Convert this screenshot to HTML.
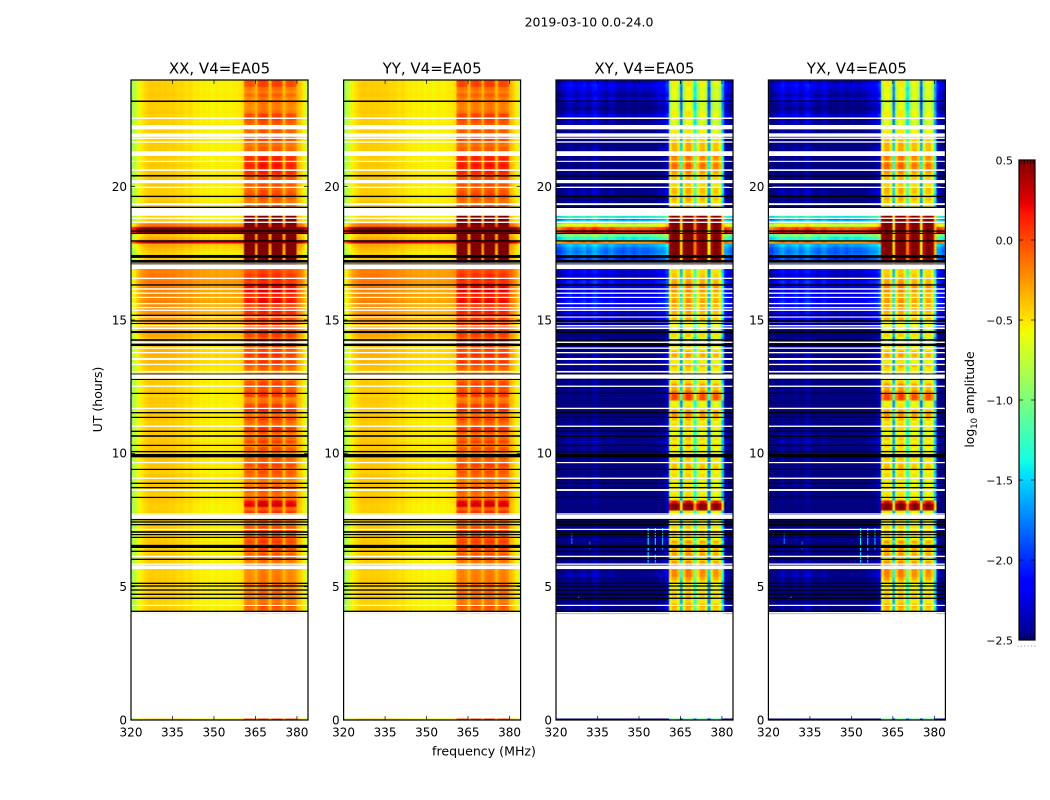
<!DOCTYPE html>
<html>
<head>
<meta charset="utf-8">
<title>2019-03-10 spectrogram</title>
<style>
html,body{margin:0;padding:0;background:#fff;}
svg{display:block;}
text{font-family:"DejaVu Sans","Liberation Sans",sans-serif;fill:#000;}
</style>
</head>
<body>
<svg id="chart" xmlns="http://www.w3.org/2000/svg" width="1050" height="800" viewBox="0 0 1050 800">
<defs>
<filter id="smooth" x="-2%" y="-2%" width="104%" height="104%" color-interpolation-filters="sRGB"><feGaussianBlur stdDeviation="0.6 0.4"/></filter>
</defs>
<text x="589" y="26.5" font-size="12.5" text-anchor="middle">2019-03-10 0.0-24.0</text>
<text x="484" y="755.5" font-size="12.6" text-anchor="middle">frequency (MHz)</text>
<text transform="translate(102,399.5) rotate(-90)" font-size="12.5" text-anchor="middle">UT (hours)</text>
<text transform="translate(974,399.5) rotate(-90)" font-size="12.4" text-anchor="middle">log<tspan font-size="8.5" dy="3">10</tspan><tspan dy="-3"> amplitude</tspan></text>
<g id="panels"></g>
<g id="colorbar"></g>
</svg>
<script>
/* ---- axes ---- */
var freqTicks = [320, 335, 350, 365, 380];
var utTicks = [0, 5, 10, 15, 20];
var freqDomain = [320, 384];
var utDomain = [0, 24];
var panelNames = ["XX", "YY", "XY", "YX"];
var baselineLabel = "V4=EA05";
var colorTicks = [0.5, 0.0, -0.5, -1.0, -1.5, -2.0, -2.5];
var colorDomain = [-2.5, 0.5];

/* ---- time grid ---- */
var rowStartUT = 4.0;
var rowHours = 0.125;

/* ---- spectral structure: log10 amplitude per 1 MHz channel ---- */
var parallelChannels = [-0.9,-0.78,-0.66,-0.56,-0.5,-0.46,-0.43,-0.42,-0.42,-0.43,-0.42,-0.43,-0.42,-0.43,-0.44,-0.43,-0.45,-0.47,-0.45,-0.48,-0.5,-0.47,-0.5,-0.53,-0.51,-0.55,-0.52,-0.55,-0.53,-0.57,-0.55,-0.53,-0.57,-0.55,-0.53,-0.55,-0.55,-0.53,-0.53,-0.51,-0.49,-0.3,-0.3,-0.3,-0.3,-0.35,-0.3,-0.3,-0.3,-0.3,-0.35,-0.3,-0.3,-0.3,-0.3,-0.35,-0.3,-0.3,-0.3,-0.3,-0.36,-0.42,-0.52,-0.68,-0.85];
var crossChannels = [-.22,-.22,-.12,-.07,.03,.08,-.02,-.07,-.02,.03,.08,-.07,-.02,.08,.13,.03,-.02,-.07,-.12,-.02,.03,-.07,-.12,-.12,-.17,-.12,-.07,-.12,-.17,-.12,-.07,-.12,-.12,-.12,-.07,-.07,-.02,.03,.03,.08,.23,0,0,0,0,0,0,0,0,0,0,0,0,0,0,0,0,0,0,0,0,.08,0,-.1,-.1];
var ifFirstChannels = [41, 46, 51, 56];
var gapChannels = [45, 50, 55];
var parallelIfShape = [-0.03, 0.01, 0.01, -0.04];
var crossIfShape = [-0.22, 0.04, 0.05, -0.15];
var crossGapDrop = [1.0, 0.65, 1.1];
var crossEdgeDrop = 0.9;
var xxIfOffsets = [0.08, 0.15, 0.14, 0.09];
var yyIfOffsets = [0.12, 0.13, 0.15, 0.12];
var xyIfOffsets = [0.12, 0.17, 0.10, 0.07];
var yxIfOffsets = [0.14, 0.16, 0.09, 0.08];

/* ---- per-time levels, one value every 0.125 h from 4 UT to 24 UT ---- */
var parallelBackground = [
0,.02,0,-.02,.02,0,.01,0,
0,.02,.01,0,-.01,.02,0,.01,
0,.02,-.02,.02,0,.03,.01,0,
.01,.03,0,.02,.02,0,.01,0,
0,.02,.03,0,.02,.01,.03,0,
.02,.03,0,.02,.03,.01,.04,.02,
.03,.02,.04,.03,.01,.03,.02,.02,
.02,.01,.03,.02,.02,.01,0,.02,
.01,0,.02,.01,0,.02,.01,.01,
.04,.03,.05,.08,.06,.1,.08,.07,
.05,.1,.07,.14,.1,.18,.12,.2,
.16,.22,.18,.25,.2,.27,.22,.25,
.22,.28,.24,.3,.24,.28,.25,.28,
.2,.1,.05,-.02,.02,.08,.12,.8,
.12,.04,.95,.95,.3,.02,-.03,0,
0,.02,0,.03,0,.02,0,0,
.02,0,.02,0,.03,.01,.02,0,
0,.02,0,.01,0,.02,0,.01,
.01,0,.02,0,.01,0,.02,0,
0,.01,0,.02,.01,0,.01,0];
var parallelBand = [
-.25,-.2,-.15,-.3,-.22,-.3,-.2,-.35,
-.2,-.3,-.28,-.3,-.3,-.32,-.3,-.28,
-.2,-.15,-.25,-.1,-.2,-.08,-.15,-.1,
-.2,-.1,-.2,-.25,-.1,-.15,-.05,-.2,
.15,.1,-.2,-.25,-.2,-.1,-.25,-.3,
-.3,-.2,-.15,-.2,-.1,-.25,-.2,-.3,
-.25,-.15,-.3,-.1,-.2,-.3,-.15,-.05,
-.25,-.2,-.1,-.25,-.05,0,-.1,-.25,
-.3,-.05,-.1,-.15,-.1,-.15,-.3,-.35,
-.35,-.2,-.15,-.05,-.2,-.05,-.2,-.1,
-.1,-.05,-.2,-.08,0,-.15,-.05,-.1,
-.1,-.05,0,.05,-.1,.1,.05,0,
.1,.12,.1,-.05,0,-.05,-.1,-.15,
.4,.4,.45,.45,.5,.5,.45,.5,
.5,.5,.5,.5,.5,.45,.45,.4,
-.2,-.2,-.2,-.25,-.2,-.1,-.15,-.2,
-.15,-.2,-.15,-.1,0,0,.05,-.05,
0,-.05,-.15,-.2,-.25,-.2,-.1,-.1,
-.2,-.15,-.2,-.15,-.1,-.1,-.25,-.3,
-.3,-.25,-.3,-.2,-.3,-.25,-.1,-.1];
var crossBackground = [
-2.35,-2.45,-2.4,-2.55,-2.55,-2.6,-2.5,-2.55,
-2.5,-2.45,-2.5,-2.35,-2.45,-2.4,-2.35,-2.45,
-2.55,-2.5,-2.5,-2.45,-2.5,-2.55,-2.45,-2.5,
-2.55,-2.5,-2.55,-2.6,-2.6,-2.55,-2.6,-2.55,
-2.6,-2.55,-2.5,-2.55,-2.45,-2.5,-2.45,-2.5,
-2.45,-2.5,-2.6,-2.5,-2.55,-2.4,-2.5,-2.55,
-2.5,-2.45,-2.55,-2.35,-2.5,-2.4,-2.55,-2.5,
-2.45,-2.5,-2.55,-2.5,-2.55,-2.6,-2.55,-2.55,
-2.55,-2.5,-2.55,-2.45,-2.5,-2.5,-2.45,-2.35,
-2.45,-2.55,-2.5,-2.45,-2.3,-2.45,-2.55,-2.5,
-2.5,-2.55,-2.45,-2.6,-2.6,-2.45,-2.3,-2.4,
-2.2,-2.15,-2.2,-2.1,-2.15,-2.05,-2.15,-2.1,
-2.1,-2.2,-2.15,-2.05,-2.2,-2.25,-2.15,-2.25,
-2.2,-2.0,-1.9,-1.65,-1.75,-1.7,-1.55,-0.15,
-1.3,-1.0,.25,.05,-.6,-1.3,-1.65,-1.2,
-2.55,-2.5,-2.45,-2.4,-2.55,-2.45,-2.35,-2.45,
-2.55,-2.4,-2.45,-2.55,-2.45,-2.5,-2.55,-2.5,
-2.45,-2.5,-2.55,-2.4,-2.5,-2.55,-2.5,-2.55,
-2.45,-2.4,-2.3,-2.4,-2.35,-2.2,-2.35,-2.45,
-2.4,-2.3,-2.2,-2.35,-2.25,-2.2,-2.15,-2.25];
var crossBand = [
-.5,-.55,-.45,-.65,-.6,-.55,-.6,-.65,
-.7,-.6,-.45,-.35,-.35,-.35,-.35,-.4,
-.7,-.4,-.5,-.45,-.7,-.4,-.7,-.55,
-.55,-.6,-.65,-.7,-.6,-.65,-.7,.4,
.45,.1,-.7,-.65,-.7,-.6,-.7,-.7,
-.7,-.6,-.7,-.5,-.55,-.7,-.6,-.75,
-.65,-.7,-.55,-.7,-.6,-.7,-.75,-.65,
-.6,-.7,-.5,-.4,-.35,-.6,-.7,-.75,
-.15,-.15,-.3,-.5,-.4,-.6,-.7,-.7,
-.6,-.65,-.5,-.7,-.6,-.45,-.5,-.7,
-.6,-.75,-.8,-.6,-.7,-.8,-.7,-.75,
-.5,-.55,-.5,-.4,-.45,-.4,-.45,-.5,
-.4,-.35,-.35,-.45,-.5,-.55,-.6,-.6,
.5,.5,.5,.5,.5,.5,.5,.5,
.5,.5,.5,.5,.5,.5,.5,.4,
-.6,-.6,-.6,-.6,-.5,-.6,-.5,-.5,
-.6,-.6,-.55,-.55,-.4,-.3,-.25,-.4,
-.35,-.3,-.45,-.5,-.5,-.5,-.6,-.5,
-.7,-.7,-.8,-.8,-.75,-.7,-.7,-.8,
-.8,-.85,-.8,-.75,-.75,-.8,-.7,-.7];

/* ---- the thin record at 0 UT ---- */
var zeroRowHours = 0.06;
var zeroRowLevels = {parallelBg: 0, parallelBand: -0.1, crossBg: -2.8, crossBand: -1.2};

/* ---- flagged time ranges [from UT, to UT] ---- */
var missingRanges = [[4.0,4.05],[4.275,4.32],[5.66,5.79],[5.82,5.87],[6.11,6.16],[7.125,7.17],[7.54,7.69],[7.7,7.75],[8.59,8.66],[9.04,9.09],[9.63,9.675],[10.99,11.04],[11.66,11.71],[12.49,12.54],[12.8,12.96],[13.03,13.09],[13.31,13.36],[13.5,13.575],[13.75,13.8],[13.92,13.97],[14.14,14.19],[14.66,14.72],[14.76,14.81],[14.85,14.9],[15.09,15.13],[15.34,15.39],[15.44,15.49],[15.59,15.64],[15.825,15.87],[15.98,16.03],[16.136,16.19],[16.538,16.586],[16.91,17.09],[17.12,17.15],[18.64,18.69],[18.79,18.84],[18.91,19.21],[19.31,19.38],[19.95,20.0],[20.13,20.25],[20.59,20.65],[20.93,20.97],[21.15,21.33],[21.65,21.7],[21.79,21.84],[21.87,22.0],[22.151,22.3125],[22.538,22.594]];
var blankedRanges = [[4.05,4.1],[4.54,4.59],[4.69,4.74],[4.85,4.9],[5.0,5.05],[5.1,5.15],[6.0,6.05],[6.3,6.35],[6.45,6.57],[6.825,6.87],[6.93,6.975],[7.02,7.08],[7.3,7.35],[7.4,7.45],[7.49,7.54],[8.325,8.37],[8.69,8.74],[8.85,8.9],[9.375,9.42],[9.85,9.975],[10.04,10.09],[10.275,10.32],[10.62,10.68],[10.8,10.85],[11.325,11.37],[11.5,11.55],[12.225,12.27],[12.75,12.79],[12.96,12.99],[14.025,14.11],[14.22,14.28],[14.51,14.59],[14.85,14.89],[14.94,14.99],[15.15,15.2],[16.29,16.34],[17.09,17.12],[17.15,17.25],[17.33,17.44],[17.94,17.99],[18.225,18.27],[18.31,18.36],[19.2,19.25],[19.61,19.66],[20.38,20.44],[23.175,23.23]];

/* ---- narrow interference in the cross hands: [MHz, from UT, to UT, level] ---- */
var crossInterference = [[353.1,6.3,7.2,-1.4],[355.7,6.3,7.2,-1.5],[358.3,6.4,7.2,-1.6],[353.1,5.9,6.3,-1.5],[355.7,5.9,6.2,-1.6],[328.0,4.58,4.62,-1.2],[325.5,6.6,7.0,-1.8],[332.0,6.4,6.7,-1.9]];

/* ---- layout ---- */
var svgNS = "http://www.w3.org/2000/svg";
var panelLefts = [131, 343.6, 556, 768.4];
var panelW = 177, plotTop = 80, plotBottom = 720;

function xScale(left, f) { return left + (f - freqDomain[0]) * panelW / (freqDomain[1] - freqDomain[0]); }
function yScale(ut) { return plotBottom - (ut - utDomain[0]) * (plotBottom - plotTop) / (utDomain[1] - utDomain[0]); }
function channelLow(c) { return c === 0 ? freqDomain[0] : 319.8 + c; }
function channelHigh(c) { return c === parallelChannels.length - 1 ? freqDomain[1] : 320.8 + c; }

function jet(v) {
  var t = (v - colorDomain[0]) / (colorDomain[1] - colorDomain[0]);
  t = Math.max(0, Math.min(1, t));
  function ch(a) { return Math.round(255 * Math.max(0, Math.min(1, a))); }
  var r = t < 0.35 ? 0 : t < 0.66 ? (t - 0.35) / 0.31 : t < 0.89 ? 1 : 1 - 0.5 * (t - 0.89) / 0.11;
  var g = t < 0.125 ? 0 : t < 0.375 ? (t - 0.125) / 0.25 : t < 0.64 ? 1 : t < 0.91 ? 1 - (t - 0.64) / 0.27 : 0;
  var b = t < 0.11 ? 0.5 + 0.5 * t / 0.11 : t < 0.34 ? 1 : t < 0.65 ? 1 - (t - 0.34) / 0.31 : 0;
  return "rgb(" + ch(r) + "," + ch(g) + "," + ch(b) + ")";
}

function ifIndexOf(c) {
  for (var i = 0; i < ifFirstChannels.length; i++) {
    if (c >= ifFirstChannels[i] && c < ifFirstChannels[i] + 4) return i;
  }
  return -1;
}

function cellValue(isCross, offsets, c, bg, band) {
  var i = ifIndexOf(c);
  if (!isCross) {
    if (i >= 0) return band + offsets[i] + parallelIfShape[c - ifFirstChannels[i]];
    return parallelChannels[c] + bg;
  }
  if (i >= 0) return band + offsets[i] + crossIfShape[c - ifFirstChannels[i]];
  var g = gapChannels.indexOf(c);
  if (g >= 0) return band - crossGapDrop[g];
  if (c === 60) return band - crossEdgeDrop;
  return bg + crossChannels[c];
}

function addRect(parent, x, y, w, h, fill) {
  var el = document.createElementNS(svgNS, "rect");
  el.setAttribute("x", x);
  el.setAttribute("y", y);
  el.setAttribute("width", w);
  el.setAttribute("height", h);
  el.setAttribute("fill", fill);
  parent.appendChild(el);
  return el;
}

function addLine(parent, x1, y1, x2, y2, width) {
  var el = document.createElementNS(svgNS, "line");
  el.setAttribute("x1", x1);
  el.setAttribute("y1", y1);
  el.setAttribute("x2", x2);
  el.setAttribute("y2", y2);
  el.setAttribute("stroke", "#000");
  el.setAttribute("stroke-width", width);
  parent.appendChild(el);
  return el;
}

function addText(parent, x, y, size, anchor, str) {
  var el = document.createElementNS(svgNS, "text");
  el.setAttribute("x", x);
  el.setAttribute("y", y);
  el.setAttribute("font-size", size);
  el.setAttribute("text-anchor", anchor);
  el.textContent = str;
  parent.appendChild(el);
  return el;
}

function drawRow(group, left, isCross, offsets, ut0, ut1, bg, band) {
  var yTop = yScale(ut1), yBot = yScale(ut0);
  for (var c = 0; c < parallelChannels.length; c++) {
    var x0 = xScale(left, channelLow(c)), x1 = xScale(left, channelHigh(c));
    var cell = addRect(group, x0, yTop, x1 - x0 + 0.4, yBot - yTop + 0.4, jet(cellValue(isCross, offsets, c, bg, band)));
    
    
  }
}

var panelsRoot = document.getElementById("panels");
var panelOffsets = [xxIfOffsets, yyIfOffsets, xyIfOffsets, yxIfOffsets];

panelNames.forEach(function (name, p) {
  var left = panelLefts[p];
  var isCross = p >= 2;
  var offsets = panelOffsets[p];
  var g = document.createElementNS(svgNS, "g");
  
  
  panelsRoot.appendChild(g);

  var clip = document.createElementNS(svgNS, "clipPath");
  clip.setAttribute("id", "clip-" + p);
  addRect(clip, left, plotTop, panelW, plotBottom - plotTop, "#000");
  g.appendChild(clip);

  var clipped = document.createElementNS(svgNS, "g");
  clipped.setAttribute("clip-path", "url(#clip-" + p + ")");
  
  
  g.appendChild(clipped);

  var cells = document.createElementNS(svgNS, "g");
  cells.setAttribute("filter", "url(#smooth)");
  cells.setAttribute("shape-rendering", "crispEdges");
  clipped.appendChild(cells);

  var bgSeries = isCross ? crossBackground : parallelBackground;
  var bandSeries = isCross ? crossBand : parallelBand;
  for (var r = 0; r < bgSeries.length; r++) {
    var ut0 = rowStartUT + r * rowHours;
    drawRow(cells, left, isCross, offsets, ut0, ut0 + rowHours, bgSeries[r], bandSeries[r]);
  }

  if (isCross) {
    crossInterference.forEach(function (s) {
      var fx = xScale(left, s[0]);
      var streak = addRect(clipped, fx, yScale(s[2]), 1.2, yScale(s[1]) - yScale(s[2]), jet(s[3]));
      
      
    });
  }

  var zero = document.createElementNS(svgNS, "g");
  zero.setAttribute("shape-rendering", "crispEdges");
  clipped.appendChild(zero);
  drawRow(zero, left, isCross, offsets, 0, zeroRowHours,
    isCross ? zeroRowLevels.crossBg : zeroRowLevels.parallelBg,
    isCross ? zeroRowLevels.crossBand : zeroRowLevels.parallelBand);

  missingRanges.forEach(function (d) {
    var band = addRect(clipped, left, yScale(d[1]), panelW, yScale(d[0]) - yScale(d[1]), "#fff");
    
    
  });
  blankedRanges.forEach(function (d) {
    var band = addRect(clipped, left, yScale(d[1]), panelW, yScale(d[0]) - yScale(d[1]), "#000");
    
    
  });

  var frame = addRect(g, left, plotTop, panelW, plotBottom - plotTop, "none");
  frame.setAttribute("stroke", "#000");
  frame.setAttribute("stroke-width", "1.2");
  
  

  freqTicks.forEach(function (t) {
    var tx = xScale(left, t);
    addLine(g, tx, plotBottom, tx, plotBottom - 4, 0.7);
    addLine(g, tx, plotTop, tx, plotTop + 4, 0.7);
    var lab = addText(g, tx, 736.5, 12, "middle", String(t));
    
    
  });
  utTicks.forEach(function (t) {
    var ty = yScale(t);
    addLine(g, left, ty, left + 4, ty, 0.7);
    addLine(g, left + panelW, ty, left + panelW - 4, ty, 0.7);
    var lab = addText(g, left - 4, ty + 4.3, 12, "end", String(t));
    
    
  });

  var title = addText(g, left + panelW / 2, 73.5, 15, "middle", name + ", " + baselineLabel);
  
  
});

/* ---- colour bar ---- */
var cbRoot = document.getElementById("colorbar");
var cbX = 1019, cbW = 16, cbTop = 160, cbBottom = 640, cbSteps = 240;
function cbY(v) { return cbBottom - (v - colorDomain[0]) * (cbBottom - cbTop) / (colorDomain[1] - colorDomain[0]); }
var cbCells = document.createElementNS(svgNS, "g");
cbCells.setAttribute("shape-rendering", "crispEdges");
cbRoot.appendChild(cbCells);
for (var s = 0; s < cbSteps; s++) {
  var vLow = colorDomain[0] + s * (colorDomain[1] - colorDomain[0]) / cbSteps;
  var vHigh = colorDomain[0] + (s + 1) * (colorDomain[1] - colorDomain[0]) / cbSteps;
  var swatch = addRect(cbCells, cbX, cbY(vHigh), cbW, cbY(vLow) - cbY(vHigh) + 0.4, jet((vLow + vHigh) / 2));
  
  
}
var cbFrame = addRect(cbRoot, cbX, cbTop, cbW, cbBottom - cbTop, "none");
cbFrame.setAttribute("stroke", "#000");
cbFrame.setAttribute("stroke-width", "1.2");


colorTicks.forEach(function (v) {
  var ty = cbY(v);
  addLine(cbRoot, cbX, ty, cbX + 4, ty, 0.7);
  addLine(cbRoot, cbX + cbW, ty, cbX + cbW - 4, ty, 0.7);
  var txt = v.toFixed(1).replace("-", "\u2212");
  var lab = addText(cbRoot, cbX - 6, ty + 4.3, 11, "end", txt);
  
  
});
for (var k = 0; k < 5; k++) {
  var mx = cbX + 2 + k * 3.2;
  addLine(cbRoot, mx, cbTop, mx, cbTop + 4, 0.7);
  addLine(cbRoot, mx, cbBottom, mx, cbBottom - 4, 0.7);
}
for (var d = 0; d < 6; d++) {
  var dot = addRect(cbRoot, 1017.5 + d * 3.4, 645.5, 1, 1, "#888");
  
  
}
</script>
</body>
</html>
